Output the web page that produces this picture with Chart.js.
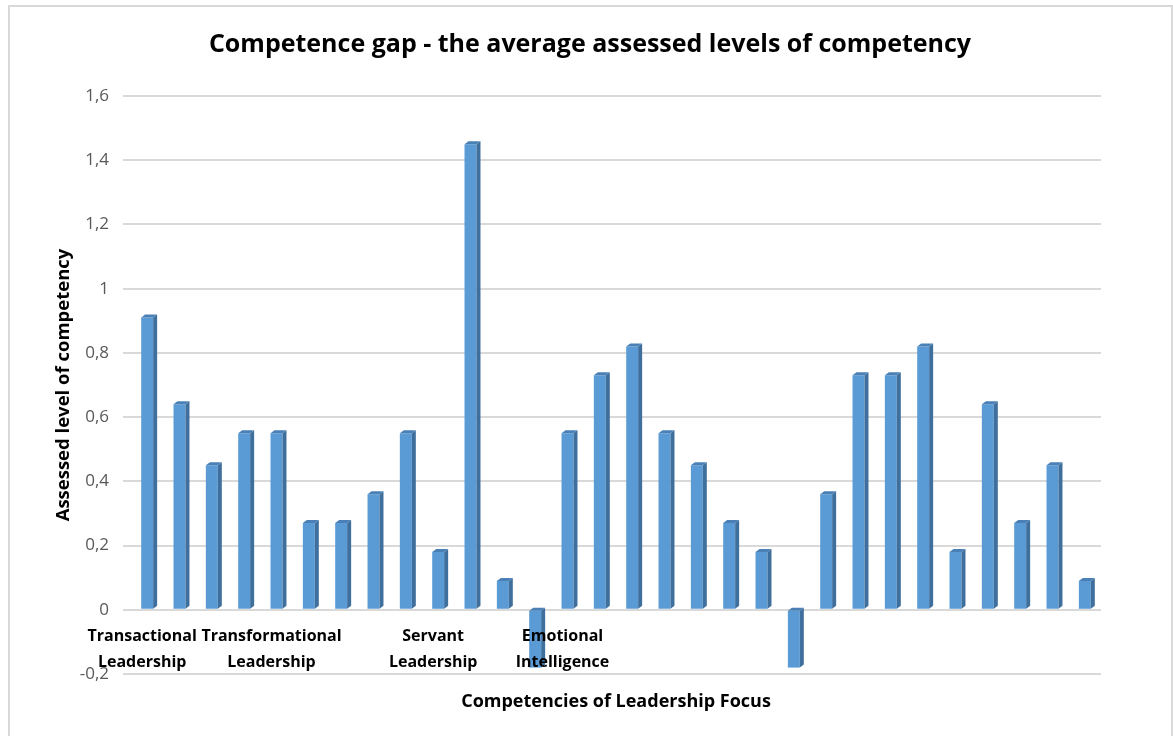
<!DOCTYPE html>
<html>
<head>
<meta charset="utf-8">
<script src="https://cdn.jsdelivr.net/npm/chart.js@4.4.1/dist/chart.umd.min.js"></script>
<style>
    html, body { margin: 0; padding: 0; background: #fff; }
    #wrap { width: 1173px; height: 736px; position: relative; }
</style>
</head>
<body>
<div id="wrap"><canvas id="gapChart"></canvas></div>
<script>
// Category labels (only a few categories carry a group label)
const categories = [
    ['Transactional', 'Leadership'], '', '', '', ['Transformational', 'Leadership'],
    '', '', '', '', ['Servant', 'Leadership'],
    '', '', '', ['Emotional', 'Intelligence'], '',
    '', '', '', '', '',
    '', '', '', '', '',
    '', '', '', '', ''
];

// Average assessed competence gap per competency
const gapValues = [
    0.91, 0.64, 0.45, 0.55, 0.55, 0.27, 0.27, 0.36, 0.55, 0.18,
    1.45, 0.09, -0.18, 0.55, 0.73, 0.82, 0.55, 0.45, 0.27, 0.18,
    -0.18, 0.36, 0.73, 0.73, 0.82, 0.18, 0.64, 0.27, 0.45, 0.09
];

// Y axis range
const yMin = -0.2;
const yMax = 1.6;
const yStep = 0.2;

const FONT = "'Open Sans', 'Noto Sans', sans-serif";

// Outer frame, like the Excel chart border
const framePlugin = {
    id: 'frame',
    beforeDraw(chart) {
        const ctx = chart.ctx;
        ctx.save();
        ctx.fillStyle = '#fff';
        ctx.fillRect(0, 0, chart.width, chart.height);
        ctx.strokeStyle = '#d9d9d9';
        ctx.lineWidth = 2;
        ctx.strokeRect(9, 6, 1163, 740);
        ctx.restore();
    }
};

// Fake 3D: side and top faces drawn from each bar's own geometry
const depthPlugin = {
    id: 'depth',
    afterDatasetsDraw(chart) {
        const ctx = chart.ctx;
        const dx = 4, dy = 3;
        chart.getDatasetMeta(0).data.forEach(bar => {
            const left = bar.x - bar.width / 2;
            const right = bar.x + bar.width / 2;
            const top = Math.min(bar.y, bar.base);
            const bottom = Math.max(bar.y, bar.base);

            ctx.save();
            // side
            ctx.fillStyle = '#3f6f9c';
            ctx.beginPath();
            ctx.moveTo(right, top);
            ctx.lineTo(right + dx, top - dy);
            ctx.lineTo(right + dx, bottom - dy);
            ctx.lineTo(right, bottom);
            ctx.closePath();
            ctx.fill();
            // top
            ctx.fillStyle = '#4a80b6';
            ctx.beginPath();
            ctx.moveTo(left, top);
            ctx.lineTo(left + dx, top - dy);
            ctx.lineTo(right + dx, top - dy);
            ctx.lineTo(right, top);
            ctx.closePath();
            ctx.fill();
            ctx.restore();
        });
    }
};

new Chart(document.getElementById('gapChart'), {
    type: 'bar',
    data: {
        labels: categories,
        datasets: [{
            label: 'Competence gap',
            data: gapValues,
            backgroundColor: '#5b9bd5',
            barPercentage: 0.37,
            categoryPercentage: 1
        }]
    },
    options: {
        responsive: true,
        maintainAspectRatio: false,
        animation: false,
        layout: {
            padding: { top: 10, left: 20, right: 13, bottom: 62 }
        },
        plugins: {
            legend: { display: false },
            tooltip: { enabled: false },
            title: {
                display: true,
                text: 'Competence gap - the average assessed levels of competency',
                color: '#000',
                font: { family: FONT, size: 25, weight: 'bold', lineHeight: 1.2 },
                padding: { top: 20, bottom: 36 }
            }
        },
        scales: {
            x: {
                position: { y: 0 },
                grid: { display: false, drawTicks: false },
                border: { display: false },
                ticks: {
                    z: 1, // labels sit on top of the negative bars
                    autoSkip: false,
                    maxRotation: 0,
                    minRotation: 0,
                    padding: 14,
                    labelOffset: -5,
                    color: '#000',
                    font: { family: FONT, size: 16, weight: 'bold', lineHeight: 1.625 }
                },
                title: {
                    display: true,
                    text: 'Competencies of Leadership Focus',
                    color: '#000',
                    font: { family: FONT, size: 18, weight: 'bold', lineHeight: 1.375 },
                    padding: { top: 0, bottom: 0 }
                }
            },
            y: {
                min: yMin,
                max: yMax,
                afterFit(scale) { scale.width = 111; },
                grid: {
                    color: '#d9d9d9',
                    lineWidth: 2,
                    tickLength: 8
                },
                border: { display: false },
                ticks: {
                    stepSize: yStep,
                    padding: 14,
                    color: '#595959',
                    font: { family: FONT, size: 17 },
                    callback: v => {
                        const r = Math.round(v * 10) / 10;
                        return String(r).replace('.', ',');
                    }
                },
                title: {
                    display: true,
                    text: 'Assessed level of competency',
                    color: '#000',
                    font: { family: FONT, size: 18.5, weight: 'bold', lineHeight: 1.2 },
                    padding: { top: 33, bottom: 0 }
                }
            },
            // empty spacer on the right so the title centres like the original
            spacer: {
                type: 'linear',
                position: 'right',
                display: true,
                grid: { display: false, drawTicks: false },
                border: { display: false },
                ticks: { display: false },
                afterFit(scale) { scale.width = 59; }
            }
        }
    },
    plugins: [framePlugin, depthPlugin]
});
</script>
</body>
</html>
